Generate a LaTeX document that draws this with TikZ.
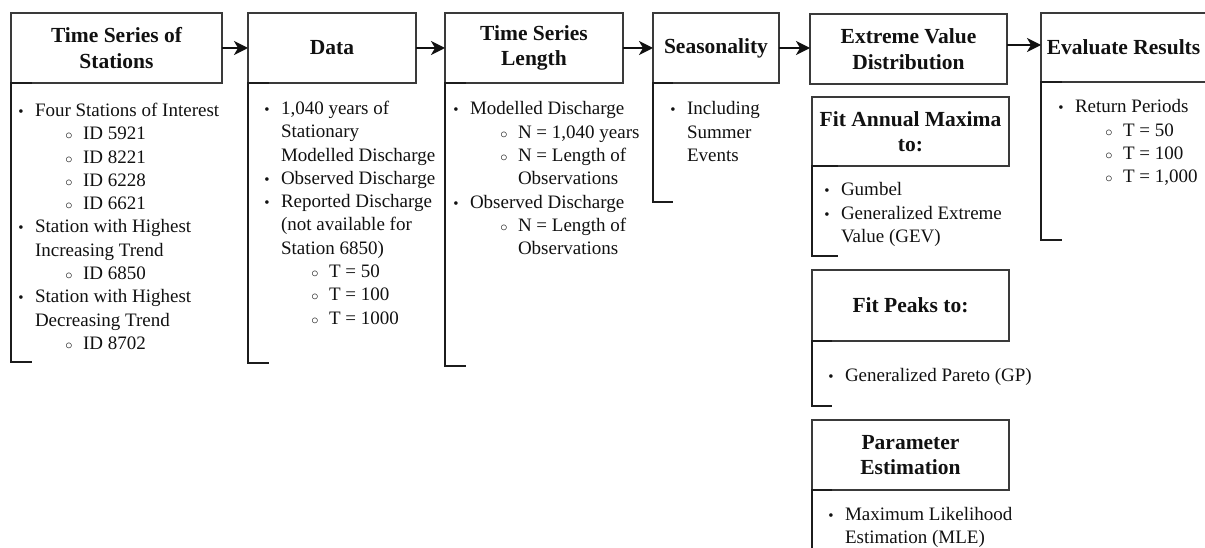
\documentclass[tikz,border=0pt]{standalone}
\usepackage{fontspec}
\setmainfont{Liberation Serif}
\usetikzlibrary{arrows.meta}

\definecolor{boxline}{HTML}{3A3A3A}
\definecolor{brk}{HTML}{1C1C1C}
\definecolor{ink}{HTML}{111111}

% bullet glyphs for first- and second-level list entries
\newcommand\bulglyph{{\fontsize{15}{15}\selectfont\textbullet}}
\newcommand\cirglyph{{\fontsize{15}{15}\selectfont$\circ$}}
\newcommand\bul{\makebox[0pt][r]{\makebox[0pt][c]{\bulglyph}\hspace{14pt}}}
\newcommand\sbul{\hspace*{48pt}\makebox[0pt][r]{\makebox[0pt][c]{\cirglyph}\hspace{14pt}}}
\newcommand\sind{\hspace*{48pt}}
\newcommand\itemlist[1]{\parbox[t]{320pt}{\raggedright\fontsize{19}{23.3}\selectfont #1}}

\tikzset{
  stagebox/.style={draw=boxline, line width=2pt, rectangle, inner sep=0pt,
    outer sep=0pt, align=center, text=ink,
    font={\bfseries\fontsize{21.5}{25.5}\selectfont}},
  bracketline/.style={draw=brk, line width=2pt},
  flowarrow/.style={draw=ink, line width=2pt, -{Stealth[length=14pt,width=14pt,inset=4pt]}},
  itemtext/.style={anchor=base west, inner sep=0pt, outer sep=0pt, text=ink},
}

\begin{document}
\begin{tikzpicture}[x=1pt, y=-1pt]
\useasboundingbox (0,0) rectangle (1205,548);

% main stages
\node[stagebox, minimum width=211, minimum height=70] (b1) at (116.5,48) {Time Series of\\Stations};
\node[stagebox, minimum width=168, minimum height=70] (b2) at (332,48) {Data};
\node[stagebox, minimum width=178, minimum height=70] (b3) at (534,48) {Time Series\\Length};
\node[stagebox, minimum width=126, minimum height=70] (b4) at (716,48) {Seasonality};
\node[stagebox, minimum width=197, minimum height=70] (b5) at (908.5,49) {Extreme Value\\Distribution};
\node[stagebox, minimum width=165, minimum height=69] (b6) at (1123.5,47.5) {Evaluate Results};

% sub-stages under the extreme value distribution
\node[stagebox, minimum width=197, minimum height=69] (fam) at (910.5,131.5) {Fit Annual Maxima\\to:};
\node[stagebox, minimum width=197, minimum height=71] (fp) at (910.5,305.5) {Fit Peaks to:};
\node[stagebox, minimum width=197, minimum height=70] (pe) at (910.5,455) {Parameter\\Estimation};

% flow arrows
\draw[flowarrow] (b1.east) -- (b2.west);
\draw[flowarrow] (b2.east) -- (b3.west);
\draw[flowarrow] (b3.east) -- (b4.west);
\draw[flowarrow] (b4.east) -- (b4.east -| b5.west);
\draw[flowarrow] ([yshift=4pt]b5.east) -- ([yshift=4pt]b5.east -| b6.west);

% brackets holding each stage's details
\draw[bracketline] ([xshift=21pt]b1.south west) -- (b1.south west) -- (b1.south west |- 0,362) -- ++(21,0);
\draw[bracketline] ([xshift=21pt]b2.south west) -- (b2.south west) -- (b2.south west |- 0,363) -- ++(21,0);
\draw[bracketline] ([xshift=21pt]b3.south west) -- (b3.south west) -- (b3.south west |- 0,366) -- ++(21,0);
\draw[bracketline] ([xshift=20pt]b4.south west) -- (b4.south west) -- (b4.south west |- 0,202) -- ++(20,0);
\draw[bracketline] ([xshift=21pt]b6.south west) -- (b6.south west) -- (b6.south west |- 0,240) -- ++(21,0);
\draw[bracketline] ([xshift=26pt]fam.south west) -- (fam.south west) -- (fam.south west |- 0,256) -- ++(26,0);
\draw[bracketline] ([xshift=20pt]fp.south west) -- (fp.south west) -- (fp.south west |- 0,406) -- ++(20,0);
\draw[bracketline] ([xshift=20pt]pe.south west) -- (pe.south west) -- (pe.south west |- 0,560);

% details
\node[itemtext] (t1) at (35,116.5) {\itemlist{%
\bul Four Stations of Interest\\
\sbul ID 5921\\
\sbul ID 8221\\
\sbul ID 6228\\
\sbul ID 6621\\
\bul Station with Highest\\
Increasing Trend\\
\sbul ID 6850\\
\bul Station with Highest\\
Decreasing Trend\\
\sbul ID 8702}};

\node[itemtext] (t2) at (281,114.5) {\itemlist{%
\bul 1,040 years of\\
Stationary\\
Modelled Discharge\\
\bul Observed Discharge\\
\bul Reported Discharge\\
(not available for\\
Station 6850)\\
\sbul T = 50\\
\sbul T = 100\\
\sbul T = 1000}};

\node[itemtext] (t3) at (470,115) {\itemlist{%
\bul Modelled Discharge\\
\sbul N = 1,040 years\\
\sbul N = Length of\\
\sind Observations\\
\bul Observed Discharge\\
\sbul N = Length of\\
\sind Observations}};

\node[itemtext] (t4) at (687,115) {\itemlist{%
\bul Including\\
Summer\\
Events}};

\node[itemtext] (t6) at (1075,113) {\itemlist{%
\bul Return Periods\\
\sbul T = 50\\
\sbul T = 100\\
\sbul T = 1,000}};

\node[itemtext] (tfam) at (841,196) {\itemlist{%
\bul Gumbel\\
\bul Generalized Extreme\\
Value (GEV)}};

\node[itemtext] (tfp) at (845,381) {\itemlist{%
\bul Generalized Pareto (GP)}};

\node[itemtext] (tpe) at (845,520) {\itemlist{%
\bul Maximum Likelihood\\
Estimation (MLE)}};
\end{tikzpicture}
\end{document}
